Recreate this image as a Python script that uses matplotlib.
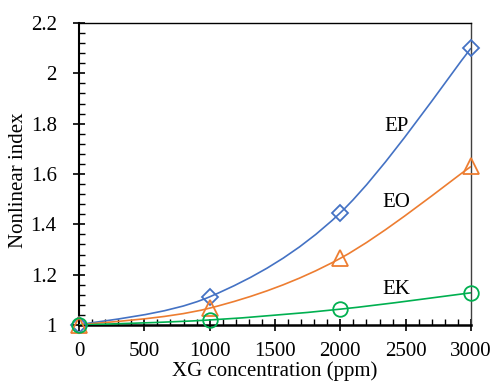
import numpy as np
import matplotlib.pyplot as plt
from matplotlib.path import Path
from matplotlib.patches import PathPatch
from matplotlib.ticker import MultipleLocator, FormatStrFormatter

plt.rcParams['font.family'] = ['Liberation Serif', 'DejaVu Serif']

# data
xg_ppm = [0, 1000, 2000, 3000]
ep_index = [1.0, 1.112, 1.446, 2.10]
eo_index = [1.0, 1.067, 1.265, 1.63]
ek_index = [1.0, 1.02, 1.063, 1.128]

series_names = ['EP', 'EO', 'EK']
label_x = [2430, 2430, 2430]
label_y = [1.79, 1.485, 1.14]

colors = ['#4472C4', '#ED7D31', '#00B050']
markers = ['D', '^', 'o']
msizes = [8, 11, 10.5]


def smooth_path(x, y):
    # Excel-like smoothed line: cubic Bezier through the points
    pts = np.column_stack([x, y]).astype(float)
    n = len(pts)
    verts = [pts[0]]
    codes = [Path.MOVETO]
    for i in range(n - 1):
        p0 = pts[i - 1] if i > 0 else pts[i]
        p1 = pts[i]
        p2 = pts[i + 1]
        p3 = pts[i + 2] if i + 2 < n else pts[i + 1]
        c1 = p1 + (p2 - p0) / 6.0
        c2 = p2 - (p3 - p1) / 6.0
        verts += [c1, c2, p2]
        codes += [Path.CURVE4] * 3
    return Path(verts, codes)


fig = plt.figure(figsize=(4.94, 3.81), dpi=100)
ax = fig.add_axes([79 / 494, 1 - 325 / 381, 392 / 494, 302 / 381])

all_y = [ep_index, eo_index, ek_index]
for k, ys in enumerate(all_y):
    patch = PathPatch(smooth_path(xg_ppm, ys), facecolor='none',
                      edgecolor=colors[k], lw=1.2, zorder=2 + k)
    ax.add_patch(patch)
    ax.plot(xg_ppm, ys, linestyle='none', marker=markers[k], ms=msizes[k],
            mfc='none', mec=colors[k], mew=1.3, clip_on=False, zorder=5 + k)
    ax.text(label_x[k], label_y[k], series_names[k], fontsize=15,
            ha='center', va='center')

ax.set_xlim(0, 3000)
ax.set_ylim(1, 2.2)
ax.xaxis.set_major_locator(MultipleLocator(500))
ax.xaxis.set_minor_locator(MultipleLocator(100))
ax.yaxis.set_major_locator(MultipleLocator(0.2))
ax.yaxis.set_minor_locator(MultipleLocator(0.04))
ax.xaxis.set_major_formatter(FormatStrFormatter('%g'))
ax.yaxis.set_major_formatter(FormatStrFormatter('%g'))

ax.tick_params(which='major', direction='inout', length=8, width=1.2,
               labelsize=15, top=False, right=False)
ax.tick_params(which='minor', direction='in', length=4, width=1,
               top=False, right=False)
ax.tick_params(axis='x', which='major', pad=8)
ax.tick_params(axis='y', which='major', pad=12)

ax.spines['bottom'].set_linewidth(1.8)
ax.spines['left'].set_linewidth(1.5)
ax.spines['top'].set_linewidth(1.0)
ax.spines['right'].set_linewidth(1.0)
ax.spines['right'].set_color('#404040')

ax.set_xlabel('XG concentration (ppm)', fontsize=15)
ax.xaxis.set_label_coords(0.5, -0.12)
ax.set_ylabel('Nonlinear index', fontsize=15)
ax.yaxis.set_label_coords(-0.13, 0.48)

fig.savefig('out.png', dpi=100)
